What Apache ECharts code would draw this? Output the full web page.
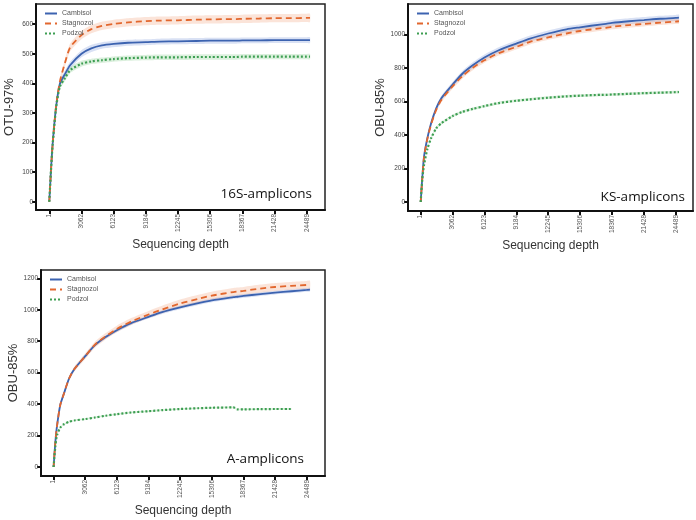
<!DOCTYPE html>
<html>
<head>
<meta charset="utf-8">
<script src="https://cdn.jsdelivr.net/npm/echarts@6/dist/echarts.min.js"></script>
<style>html,body{margin:0;padding:0;background:#fff;}#c{width:696px;height:520px;}</style>
</head>
<body>
<div id="c"></div>
<script>
// ---- data ----
const depth = [1,160,320,640,1000,1500,2000,3062,4000,5000,6123,7500,9184,10500,12245,14000,15306,17400,17800,18367,20000,21428,23000,24489,24800];
const depthTicks = [1,3062,6123,9184,12245,15306,18367,21428,24489];
const names = ['Cambisol','Stagnozol','Podzol'];

// 16S-amplicons (OTU-97%)
const s16_cambisol  = [0,105,195,318,398,432,462,500,518,528,533,537,539,541,542,543,544,544,544,545,545,546,546,546,546];
const s16_stagnozol = [0,105,195,320,405,470,522,563,583,594,601,606,610,612,613,615,616,617,617,618,619,620,620,621,621];
const s16_podzol    = [0,105,193,315,388,418,445,466,474,478,482,485,487,488,488,489,489,489,489,490,490,490,490,490,490];
const s16_cambisol_sd  = [0,4,6,8,10,12,12,12,12,11,11,10,10,10,10,10,10,10,10,10,10,10,10,10,10];
const s16_stagnozol_sd = [0,4,6,8,10,12,13,14,14,14,14,14,14,14,14,14,14,14,14,14,14,14,14,14,14];
const s16_podzol_sd    = [0,3,5,7,9,10,10,10,9,9,9,9,9,9,9,9,9,9,9,9,9,9,9,9,9];

// KS-amplicons (OBU-85%)
const ks_cambisol  = [0,150,270,380,470,560,620,700,765,815,862,905,945,975,1005,1030,1042,1060,1062,1068,1078,1085,1093,1098,1100];
const ks_stagnozol = [0,145,265,375,462,550,610,690,750,800,845,888,925,955,982,1005,1020,1037,1039,1045,1055,1062,1070,1076,1078];
const ks_podzol    = [0,140,220,315,380,440,470,512,537,555,572,590,604,612,622,630,634,639,639,641,645,649,652,655,656];
const ks_cambisol_sd  = [0,6,8,10,12,14,15,16,17,18,18,18,18,18,18,18,18,18,18,18,18,18,18,18,18];
const ks_stagnozol_sd = [0,6,8,10,12,14,15,15,15,15,15,15,15,15,15,15,15,15,15,15,15,15,15,15,15];
const ks_podzol_sd    = [0,4,5,6,7,8,8,8,8,8,8,8,8,8,8,8,8,8,8,8,8,8,8,8,8];

// A-amplicons (OBU-85%)
const a_cambisol  = [0,150,255,393,467,563,622,705,775,825,870,915,955,985,1015,1042,1060,1080,1083,1088,1100,1109,1118,1126,1128];
const a_stagnozol = [0,150,255,393,467,563,622,705,778,830,878,925,970,1002,1040,1070,1090,1113,1116,1120,1135,1145,1152,1158,1160];
const a_podzol    = [0,125,200,250,272,288,296,305,315,326,336,347,355,362,369,374,377,379,367,367,368,369,369,null,null];
const a_cambisol_sd  = [0,4,6,8,9,10,10,10,10,10,11,11,11,12,12,12,12,12,12,12,12,12,12,12,12];
const a_stagnozol_sd = [0,5,8,10,12,14,16,18,19,20,21,22,23,24,25,25,25,25,25,25,25,25,25,25,25];
const a_podzol_sd    = [0,3,4,5,5,5,5,5,5,5,5,5,5,5,5,5,5,5,5,5,5,5,5,null,null];

const yTicks16 = [0,100,200,300,400,500,600];
const yTicksKS = [0,200,400,600,800,1000];
const yTicksA  = [0,200,400,600,800,1000,1200];

// ---- styling ----
const colors = ['#3c63b0','#e2672e','#3d9e52'];
const bandColors = ['rgba(80,120,205,0.22)','rgba(235,130,80,0.22)','rgba(90,185,100,0.22)'];
const lineTypes = ['solid',[6,4],[2,2]];
const lineWidths = [1.8,1.8,2.2];

const panels = [
  {grid:{left:36,top:4,width:289,height:206}, ymin:-28, ymax:668, yTicks:yTicks16, xmin:-1264, xmax:26229, yname:'OTU-97%',
   series:[s16_cambisol,s16_stagnozol,s16_podzol], sd:[s16_cambisol_sd,s16_stagnozol_sd,s16_podzol_sd], label:'16S-amplicons', lx:312, ly:197},
  {grid:{left:408,top:4,width:285,height:207}, ymin:-54, ymax:1181, yTicks:yTicksKS, xmin:-1218, xmax:26149, yname:'OBU-85%',
   series:[ks_cambisol,ks_stagnozol,ks_podzol], sd:[ks_cambisol_sd,ks_stagnozol_sd,ks_podzol_sd], label:'KS-amplicons', lx:685, ly:200},
  {grid:{left:41,top:270,width:284,height:206}, ymin:-57, ymax:1253, yTicks:yTicksA, xmin:-1217, xmax:26256, yname:'OBU-85%',
   series:[a_cambisol,a_stagnozol,a_podzol], sd:[a_cambisol_sd,a_stagnozol_sd,a_podzol_sd], label:'A-amplicons', lx:304, ly:462}
];

const plain = v => String(v);
const grids=[], xAxes=[], yAxes=[], series=[], legends=[], graphics=[];
panels.forEach((p,pi)=>{
  grids.push(Object.assign({show:true,borderColor:'#222',borderWidth:1.5,backgroundColor:'#fff'},p.grid));
  xAxes.push({type:'value',gridIndex:pi,min:p.xmin,max:p.xmax,
    name:'Sequencing depth',nameLocation:'middle',nameGap:29,
    nameTextStyle:{fontFamily:'Liberation Sans',fontSize:12,color:'#333'},
    axisLine:{show:true,onZero:false,lineStyle:{color:'#111',width:2}},
    axisTick:{show:true,customValues:depthTicks,length:4,lineStyle:{color:'#111',width:2}},
    axisLabel:{customValues:depthTicks,formatter:plain,rotate:90,fontSize:6.5,color:'#555',fontFamily:'Liberation Sans',margin:4},
    splitLine:{show:false}});
  yAxes.push({type:'value',gridIndex:pi,min:p.ymin,max:p.ymax,
    name:p.yname,nameLocation:'middle',nameGap:20,
    nameTextStyle:{fontFamily:'Liberation Sans',fontSize:13,color:'#333'},
    axisLine:{show:true,onZero:false,lineStyle:{color:'#111',width:2}},
    axisTick:{show:true,customValues:p.yTicks,length:4,lineStyle:{color:'#111',width:2}},
    axisLabel:{customValues:p.yTicks,formatter:plain,fontSize:6.5,color:'#444',fontFamily:'Liberation Sans',margin:3},
    splitLine:{show:false}});
  p.series.forEach((vals,si)=>{
    const sd = p.sd[si];
    const band = [];
    depth.forEach((d,i)=>{ if (vals[i]!=null) band.push([d, vals[i]-sd[i], vals[i]+sd[i]]); });
    series.push({type:'custom',name:'_band'+pi+'_'+si,xAxisIndex:pi,yAxisIndex:pi,silent:true,z:1,
      data:band, encode:{x:0,y:[1,2]},
      renderItem:function(params,api){
        if (params.dataIndex!==0) return null;
        const up=[], lo=[];
        band.forEach(b=>{ up.push(api.coord([b[0],b[2]])); lo.push(api.coord([b[0],b[1]])); });
        const pts = up.concat(lo.reverse());
        return {type:'polygon',shape:{points:pts,smooth:0.2},style:{fill:bandColors[si],stroke:null}};
      }});
  });
  p.series.forEach((vals,si)=>{
    series.push({type:'line',name:names[si],xAxisIndex:pi,yAxisIndex:pi,
      data:depth.map((d,i)=>[d,vals[i]]),symbol:'none',smooth:0.25,
      lineStyle:{color:colors[si],width:lineWidths[si],type:lineTypes[si]},itemStyle:{color:colors[si]},z:3});
  });
  legends.push({data:names,orient:'vertical',left:p.grid.left+3,top:p.grid.top+1,itemWidth:12,itemHeight:6,itemGap:3,
    itemStyle:{opacity:0},
    textStyle:{fontSize:7,color:'#555',fontFamily:'Liberation Sans'},selectedMode:false});
  graphics.push({type:'text',right:696-p.lx,top:p.ly-10,style:{text:p.label,fontFamily:'Open Sans',fontSize:13.5,fill:'#111'}});
});

const chart = echarts.init(document.getElementById('c'),null,{renderer:'canvas'});
chart.setOption({animation:false,backgroundColor:'#fff',grid:grids,xAxis:xAxes,yAxis:yAxes,series:series,legend:legends,graphic:graphics});
</script>
</body>
</html>
